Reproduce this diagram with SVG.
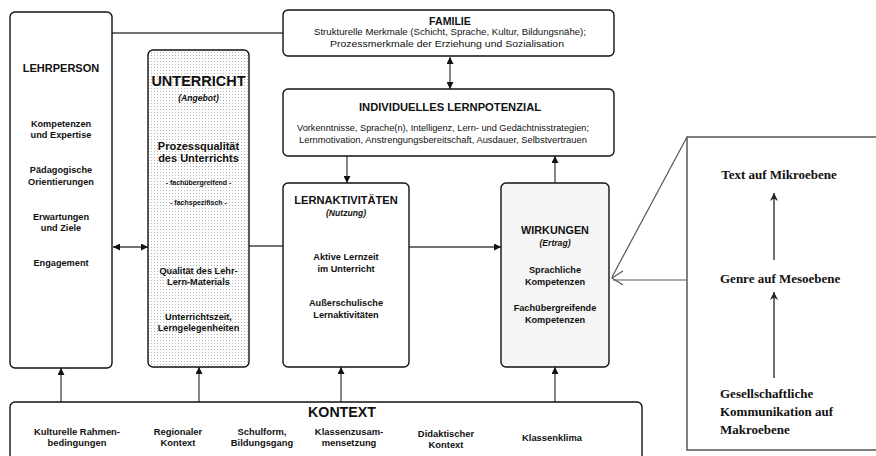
<svg xmlns="http://www.w3.org/2000/svg" width="876" height="456" viewBox="0 0 876 456">
  <style>
    .box { fill: #fff; stroke: #111; stroke-width: 1.4; }
    .t { font-family: "Liberation Sans", Arial, sans-serif; fill: #111; text-anchor: middle; dominant-baseline: central; }
    .b { font-weight: bold; }
    .i { font-style: italic; font-weight: bold; }
    .s { font-size: 9px; }
    .m { font-size: 9.2px; }
    .k { font-size: 9.4px; }
    .serif { font-family: "Liberation Serif", "Times New Roman", serif; font-weight: bold; font-size: 13px; fill: #111; dominant-baseline: central; }
    .con { stroke: #444; stroke-width: 1.3; fill: none; }
    .thin { stroke: #555; stroke-width: 1.2; fill: none; }
  </style>
  <defs>
    <pattern id="dots" width="3" height="3" patternUnits="userSpaceOnUse">
      <rect width="3" height="3" fill="#fff"/>
      <rect x="1" y="1" width="1" height="1" fill="#b4b4b4"/>
    </pattern>
    <marker id="ah" viewBox="0 0 10 10" refX="10" refY="5" markerWidth="7" markerHeight="7" markerUnits="userSpaceOnUse" orient="auto-start-reverse">
      <path d="M0,0 L10,5 L0,10 Z" fill="#111"/>
    </marker>
    <marker id="ahs" viewBox="0 0 10 10" refX="10" refY="5" markerWidth="10" markerHeight="8" markerUnits="userSpaceOnUse" orient="auto">
      <path d="M0,0 L10,5 L0,10 L3,5 Z" fill="#222"/>
    </marker>
  </defs>

  <rect width="876" height="456" fill="#fff"/>

  <!-- connectors -->
  <g id="connectors">
    <line class="con" x1="112" y1="33" x2="284" y2="33"/>
    <line class="con" x1="113" y1="247" x2="148" y2="247" marker-start="url(#ah)" marker-end="url(#ah)"/>
    <line class="con" x1="249" y1="246" x2="283" y2="246"/>
    <line class="con" x1="450" y1="57" x2="450" y2="89" marker-start="url(#ah)" marker-end="url(#ah)"/>
    <line class="con" x1="347" y1="156" x2="347" y2="183" marker-end="url(#ah)"/>
    <line class="con" x1="555" y1="183" x2="555" y2="156" marker-end="url(#ah)"/>
    <line class="con" x1="409" y1="247" x2="501" y2="247" marker-end="url(#ah)"/>
    <line class="con" x1="61" y1="402" x2="61" y2="368" marker-end="url(#ah)"/>
    <line class="con" x1="199" y1="402" x2="199" y2="367" marker-end="url(#ah)"/>
    <line class="con" x1="341" y1="402" x2="341" y2="367" marker-end="url(#ah)"/>
    <line class="con" x1="555" y1="402" x2="555" y2="367" marker-end="url(#ah)"/>
    <!-- links from the language panel to WIRKUNGEN -->
    <line class="thin" x1="687" y1="137" x2="612" y2="277"/>
    <line class="thin" x1="687" y1="280" x2="613" y2="280"/>
    <polyline class="thin" points="623,271 612,278 623,285"/>
  </g>

  <!-- LEHRPERSON -->
  <g id="lehrperson">
    <rect class="box" x="10" y="12" width="102" height="356" rx="5"/>
    <text class="t b" x="61" y="68" font-size="11px">LEHRPERSON</text>
    <text class="t b m" x="61" y="124">Kompetenzen</text>
    <text class="t b m" x="61" y="135">und Expertise</text>
    <text class="t b m" x="61" y="170">Pädagogische</text>
    <text class="t b m" x="61" y="182">Orientierungen</text>
    <text class="t b m" x="61" y="217">Erwartungen</text>
    <text class="t b m" x="61" y="228">und Ziele</text>
    <text class="t b m" x="61" y="263">Engagement</text>
  </g>

  <!-- UNTERRICHT -->
  <g id="unterricht">
    <rect class="box" x="148" y="50" width="101" height="317" rx="5" style="fill:url(#dots)"/>
    <text class="t b" x="198.5" y="81" font-size="14.5px">UNTERRICHT</text>
    <text class="t i" x="198.5" y="98" font-size="8.6px">(Angebot)</text>
    <text class="t b" x="198.5" y="146" font-size="11px">Prozessqualität</text>
    <text class="t b" x="198.5" y="158" font-size="11px">des Unterrichts</text>
    <text class="t b" x="198.5" y="182" font-size="7px">- fachübergreifend -</text>
    <text class="t b" x="198.5" y="202" font-size="7px">- fachspezifisch -</text>
    <text class="t b m" x="198.5" y="271">Qualität des Lehr-</text>
    <text class="t b m" x="198.5" y="282">Lern-Materials</text>
    <text class="t b m" x="198.5" y="317">Unterrichtszeit,</text>
    <text class="t b m" x="198.5" y="328">Lerngelegenheiten</text>
  </g>

  <!-- FAMILIE -->
  <g id="familie">
    <rect class="box" x="283" y="10" width="331" height="46" rx="5"/>
    <text class="t b" x="450" y="21" font-size="10.6px">FAMILIE</text>
    <text class="t s" x="450" y="32" textLength="272" lengthAdjust="spacingAndGlyphs">Strukturelle Merkmale (Schicht, Sprache, Kultur, Bildungsnähe);</text>
    <text class="t s" x="447" y="44" textLength="234" lengthAdjust="spacingAndGlyphs">Prozessmerkmale der Erziehung und Sozialisation</text>
  </g>

  <!-- INDIVIDUELLES LERNPOTENZIAL -->
  <g id="lernpotenzial">
    <rect class="box" x="283" y="89" width="331" height="67" rx="5"/>
    <text class="t b" x="450" y="107" font-size="11.2px">INDIVIDUELLES LERNPOTENZIAL</text>
    <text class="t s" x="443" y="128" textLength="292" lengthAdjust="spacingAndGlyphs">Vorkenntnisse, Sprache(n), Intelligenz, Lern- und Gedächtnisstrategien;</text>
    <text class="t s" x="443" y="140" textLength="288" lengthAdjust="spacingAndGlyphs">Lernmotivation, Anstrengungsbereitschaft, Ausdauer, Selbstvertrauen</text>
  </g>

  <!-- LERNAKTIVITÄTEN -->
  <g id="lernaktivitaeten">
    <rect class="box" x="283" y="183" width="126" height="184" rx="5"/>
    <text class="t b" x="346" y="200" font-size="11.1px">LERNAKTIVITÄTEN</text>
    <text class="t i" x="346" y="213" font-size="8.6px">(Nutzung)</text>
    <text class="t b m" x="346" y="257">Aktive Lernzeit</text>
    <text class="t b m" x="346" y="269">im Unterricht</text>
    <text class="t b m" x="346" y="303">Außerschulische</text>
    <text class="t b m" x="346" y="315">Lernaktivitäten</text>
  </g>

  <!-- WIRKUNGEN -->
  <g id="wirkungen">
    <rect class="box" x="501" y="183" width="108" height="184" rx="5" style="fill:#f5f5f5"/>
    <text class="t b" x="555" y="230" font-size="10.8px">WIRKUNGEN</text>
    <text class="t i" x="555" y="243" font-size="8.6px">(Ertrag)</text>
    <text class="t b m" x="555" y="270">Sprachliche</text>
    <text class="t b m" x="555" y="282">Kompetenzen</text>
    <text class="t b m" x="555" y="308">Fachübergreifende</text>
    <text class="t b m" x="555" y="320">Kompetenzen</text>
  </g>

  <!-- KONTEXT -->
  <g id="kontext">
    <rect class="box" x="10" y="402" width="632" height="70" rx="5"/>
    <text class="t b" x="342" y="412" font-size="14.2px">KONTEXT</text>
    <text class="t b k" x="77" y="431">Kulturelle Rahmen-</text>
    <text class="t b k" x="77" y="442">bedingungen</text>
    <text class="t b k" x="178" y="431">Regionaler</text>
    <text class="t b k" x="178" y="442">Kontext</text>
    <text class="t b k" x="262" y="431">Schulform,</text>
    <text class="t b k" x="262" y="442">Bildungsgang</text>
    <text class="t b k" x="349" y="431">Klassenzusam-</text>
    <text class="t b k" x="349" y="442">mensetzung</text>
    <text class="t b k" x="446" y="433">Didaktischer</text>
    <text class="t b k" x="446" y="444">Kontext</text>
    <text class="t b k" x="552" y="437">Klassenklima</text>
  </g>

  <!-- language levels panel -->
  <g id="sprachebenen">
    <polyline points="880,137 687,137 687,450 880,450" fill="#fff" stroke="#555" stroke-width="1.5"/>
    <text class="serif" x="779" y="174" text-anchor="middle">Text auf Mikroebene</text>
    <text class="serif" x="720" y="278">Genre auf Mesoebene</text>
    <text class="serif" x="720" y="393">Gesellschaftliche</text>
    <text class="serif" x="720" y="411">Kommunikation auf</text>
    <text class="serif" x="720" y="429">Makroebene</text>
    <line x1="774" y1="260" x2="774" y2="193" stroke="#222" stroke-width="1.3" marker-end="url(#ahs)"/>
    <line x1="774" y1="378" x2="774" y2="292" stroke="#222" stroke-width="1.3" marker-end="url(#ahs)"/>
  </g>
</svg>
